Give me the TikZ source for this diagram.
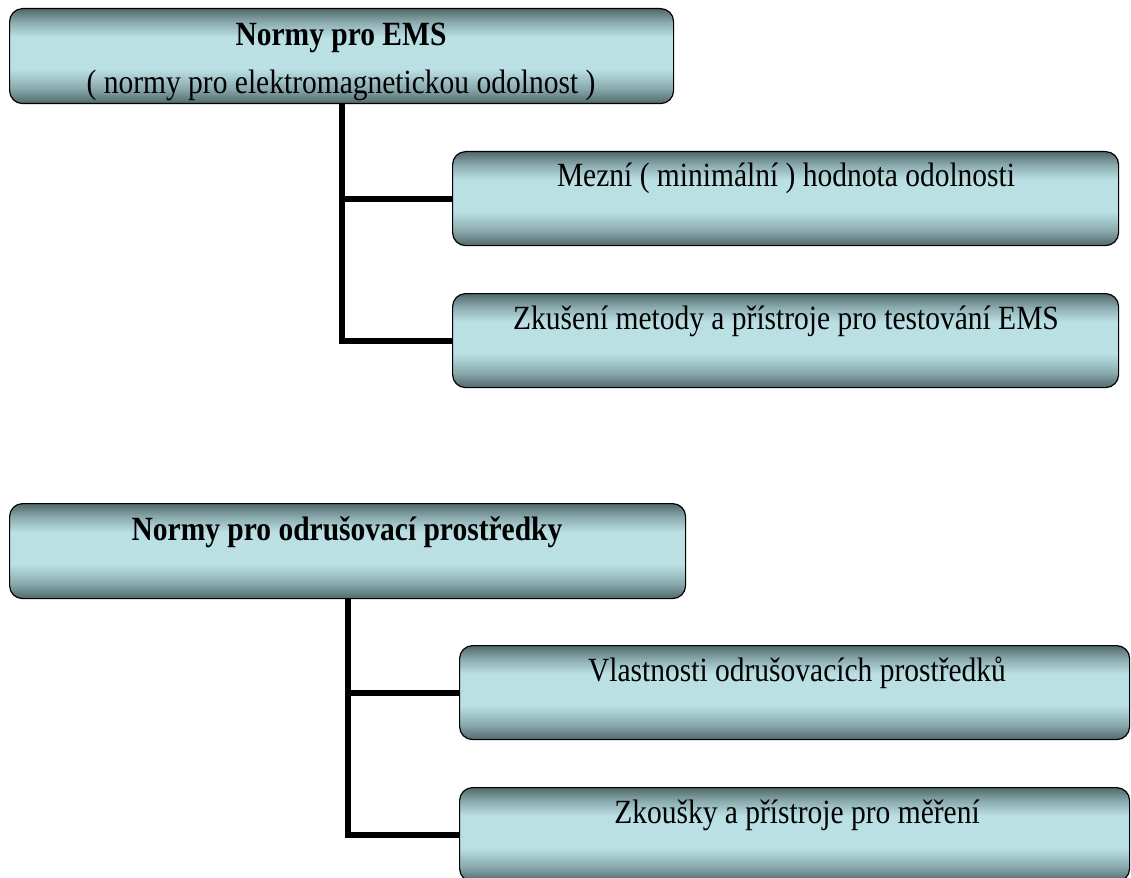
\documentclass[tikz,border=0pt]{standalone}
\usepackage{graphicx}
\usepackage{fontspec}
\setmainfont{Liberation Serif}
\definecolor{dk}{RGB}{80,104,107}
\definecolor{lt}{RGB}{186,224,228}
\colorlet{md}{dk!45!lt}
\pgfdeclareverticalshading{boxshade}{100bp}{color(0bp)=(dk); color(25bp)=(dk); color(33bp)=(md); color(43bp)=(lt); color(60bp)=(lt); color(68bp)=(md); color(75bp)=(dk); color(100bp)=(dk)}
\newcommand\tallt[1]{\scalebox{1}[1.15]{#1}}
\tikzset{
  box/.style={draw=black, line width=1.2pt, rounded corners=13pt, shading=boxshade, inner sep=0pt, anchor=north west},
  txt/.style={anchor=base, inner sep=0pt, font=\fontsize{29.5}{35}\selectfont},
  btxt/.style={txt, font=\fontsize{29.5}{35}\selectfont\bfseries},
  conn/.style={draw=black, line width=6pt, line join=miter}
}
\begin{document}
\begin{tikzpicture}[x=1pt,y=-1pt]
\useasboundingbox (0,0) rectangle (1131,877);
% upper group
\node[box, minimum width=664pt, minimum height=95pt] (b1) at (9,8) {};
\node[box, minimum width=666pt, minimum height=94pt] (b2) at (452,151) {};
\node[box, minimum width=666pt, minimum height=94pt] (b3) at (452,293) {};
% lower group
\node[box, minimum width=676pt, minimum height=95pt] (b4) at (9,503) {};
\node[box, minimum width=670pt, minimum height=94pt] (b5) at (459,645) {};
\node[box, minimum width=670pt, minimum height=94pt] (b6) at (459,787) {};
% connectors
\draw[conn] (b1.south) |- (b3.west);
\draw[conn] (b1.south |- b2.west) -- (b2.west);
\draw[conn] (b4.south) |- (b6.west);
\draw[conn] (b4.south |- b5.west) -- (b5.west);
% texts
\node[btxt] (t1a) at (341,46) {\tallt{Normy pro EMS}};
\node[txt] (t1b) at (341,94) {\tallt{( normy pro elektromagnetickou odolnost )}};
\node[txt] (t2) at (786,187) {\tallt{Mezní ( minimální ) hodnota odolnosti}};
\node[txt] (t3) at (786,329) {\tallt{Zkušení metody a přístroje pro testování EMS}};
\node[btxt] (t4) at (347,540) {\tallt{Normy pro odrušovací prostředky}};
\node[txt] (t5) at (797,681) {\tallt{Vlastnosti odrušovacích prostředků}};
\node[txt] (t6) at (797,823) {\tallt{Zkoušky a přístroje pro měření}};
\end{tikzpicture}
\end{document}
